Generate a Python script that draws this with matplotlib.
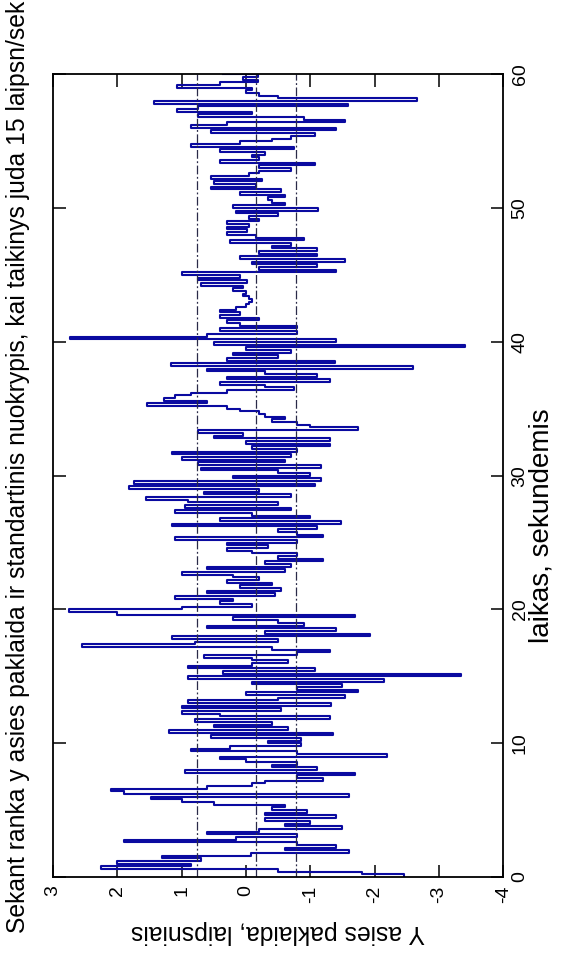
import numpy as np
import matplotlib.pyplot as plt

plt.rcParams['font.family'] = ['Liberation Sans', 'DejaVu Sans']
plt.rcParams['axes.unicode_minus'] = False

# Y asies paklaida (laipsniais), imtys kas 0.2 s, 0..60 s
err_0_12 = [-2.45, -1.8, -0.5, 2.25, 0.85, 2.0, 0.7, 1.3, -0.08, -1.6,
            -0.6, -1.4, -0.8, 1.9, 0.15, -0.8, 0.6, -0.2, -1.5, -0.6,
            -1.0, -0.3, -1.4, -0.3, -0.95, -0.4, -0.6, 0.5, 1.0, 1.48,
            -1.6, 1.9, 2.1, 0.6, -0.1, -0.3, -1.2, -0.8, -1.7, 0.95,
            -1.1, -0.4, -0.8, 0.0, 0.4, -2.2, -0.8, 0.85, 0.25, -0.85,
            -0.35, -0.85, 0.55, -1.35, 1.2, -0.65, 0.5, -0.4, 0.8, -1.3,
            0.4, 1.0]
err_12_24 = [-0.55, 1.0, -1.33, 0.9, -0.5, -1.54, 0.0, -1.74, -0.8, -1.5,
             -0.1, -2.15, 0.9, -3.35, 0.35, -1.07, 0.9, -0.1, -0.65, -0.1,
             0.65, -0.8, -1.3, -0.4, 2.55, 0.8, -0.5, 1.15, -1.93, -0.3,
             -1.4, 0.6, -0.9, -0.5, 0.2, -1.7, 2.0, 2.75, 1.0, -0.1,
             0.4, 0.2, 1.1, -0.45, 0.6, -0.55, 0.1, -0.4, 0.3, -0.2,
             0.2, 1.0, -0.6, 0.6, -0.7, -0.3, -1.2, -0.5, -0.8, -0.1,
             0.3]
err_24_36 = [-0.35, 0.3, -0.8, 1.1, -1.2, -0.8, -0.5, -1.1, 1.15, -1.48,
             0.4, -1.0, -0.1, 1.1, -0.7, 0.95, -0.5, 0.9, 1.55, -0.7,
             0.65, -0.2, 1.82, -1.07, 1.74, -1.17, 0.2, -1.0, -0.5, 0.7,
             -1.17, 0.75, -0.6, 1.0, -0.7, 1.15, -0.8, -0.1, -1.3, 0.0,
             -1.3, 0.5, 0.05, 0.75, -1.74, -1.0, -0.8, -0.4, -0.6, -0.3,
             -0.2, 0.1, 0.3, 1.54, 0.6, 1.28, 1.1, 0.85, 0.3, -0.75]
err_36_48 = [-0.3, 0.4, -1.3, 0.3, -1.1, -0.3, 0.6, -2.6, 1.17, -1.38,
             0.3, -0.5, 0.2, -0.7, 0.0, -3.4, 0.5, -1.4, 2.73, 0.6,
             -0.8, 0.4, -0.8, 0.1, 0.3, -0.2, 0.4, 0.1, 0.4, 0.15,
             0.0, -0.05, -0.1, -0.05, 0.05, 0.0, 0.2, 0.05, 0.7, -0.02,
             0.75, 0.1, 1.0, -1.4, -0.2, -1.1, -0.1, -1.54, 0.1, -1.1,
             -0.2, -1.1, -0.4, -0.7, 0.25, -0.9, -0.15, 0.3, -0.01]
err_48_60 = [0.3, -0.05, 0.3, -0.2, -0.05, -0.5, 0.15, -1.12, 0.2, -0.6,
             -0.4, -0.35, -0.6, 0.1, -0.55, 0.55, -0.15, 0.5, -0.25, 0.55,
             -0.05, -0.2, -0.7, -0.2, -1.07, 0.4, -0.2, -0.1, -0.3, 0.4,
             -0.75, 0.85, 0.1, -0.4, -0.7, -1.07, 0.55, -1.4, 0.85, 0.3,
             -1.54, -0.9, 0.75, -0.1, 1.07, 0.75, -1.59, 1.43, -2.66, -0.5,
             -0.2, 0.0, -0.1, 1.07, 0.4, -0.18, 0.05, -0.18, 0.35]

err = err_0_12 + err_12_24 + err_24_36 + err_36_48 + err_48_60
t = np.linspace(0, 60, len(err))

ref_lines = [0.76, -0.15, -0.78]  # vidurkis ir +/- standartinis nuokrypis
value_ticks = [3, 2, 1, 0, -1, -2, -3, -4]
value_labels = ['3', '2', '1', '0', '-1', '-2', '-3', '-4']
time_ticks = [0, 10, 20, 30, 40, 50, 60]
title = "Sekant ranka y asies paklaida ir standartinis nuokrypis, kai taikinys juda 15 laipsn/sek"

fig = plt.figure(figsize=(5.67, 9.66), dpi=100)
ax = fig.add_axes([0.0935, 0.0921, 0.794, 0.831])

# laikas eina vertikaliai (paveikslas pasuktas), laiptai pagal laika
step_err = np.repeat(err, 2)[:-1]
step_t = np.repeat(t, 2)[1:]
ax.plot(step_err, step_t, color='#0a0aa0', lw=1.5)
for v in ref_lines:
    ax.axvline(v, color='#2a2a48', lw=0.9, ls=(0, (7, 2, 1.5, 2)))

ax.set_xlim(3, -4)
ax.set_ylim(0, 60)
ax.set_xticks(value_ticks)
ax.set_xticklabels(value_labels, rotation=90)
ax.set_yticks(time_ticks)
ax.yaxis.tick_right()
ax.tick_params(direction='in', length=9, width=1.1, top=True, bottom=True,
               left=True, right=True, labelsize=14, pad=6)
for lab in ax.get_yticklabels():
    lab.set_rotation(90)
    lab.set_va('center')

for s in ax.spines.values():
    s.set_linewidth(1.3)

ax.set_xlabel("Y asies paklaida, laipsniais", rotation=180, fontsize=17.8, labelpad=12)
ax.yaxis.set_label_position('right')
ax.set_ylabel("laikas, sekundemis", rotation=90, fontsize=20)
ax.yaxis.label.set_va('center')
ax.yaxis.label.set_rotation_mode('default')
ax.yaxis.set_label_coords((541 - 53) / 450, 0.438)

fig.text(0.031, 0.517, title, rotation=90, ha='center', va='center', fontsize=17.8)

fig.savefig('out.png', dpi=100, facecolor='white')
